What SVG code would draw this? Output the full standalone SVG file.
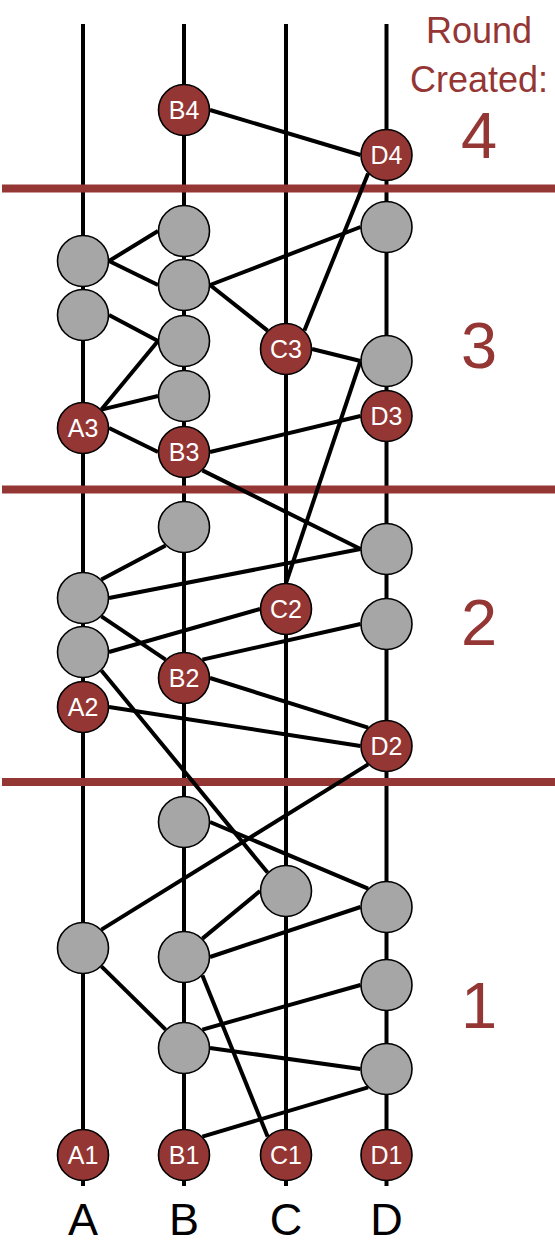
<svg xmlns="http://www.w3.org/2000/svg" width="555" height="1252" viewBox="0 0 555 1252">
<style>
.tl{stroke:#000;stroke-width:4}
.sep{stroke:#943634;stroke-width:8}
.e{stroke:#000;stroke-width:4;fill:none}
.g{fill:#A6A6A6;stroke:#000;stroke-width:1.6}
.r{fill:#943634;stroke:#000;stroke-width:1.6}
.lb{font-family:"Liberation Sans",Arial,sans-serif;font-size:25px;fill:#fff;text-anchor:middle}
.col{font-family:"Liberation Sans",Arial,sans-serif;font-size:45px;fill:#000;text-anchor:middle}
.rd{font-family:"Liberation Sans",Arial,sans-serif;fill:#943634;text-anchor:middle}
</style>
<rect width="555" height="1252" fill="#fff"/>
<g id="timelines">
<line class="tl" x1="83" y1="24" x2="83" y2="1186"/>
<line class="tl" x1="184" y1="24" x2="184" y2="1186"/>
<line class="tl" x1="286" y1="24" x2="286" y2="1186"/>
<line class="tl" x1="386.5" y1="24" x2="386.5" y2="1186"/>
</g>
<g id="separators">
<line class="sep" x1="2" y1="188.5" x2="555" y2="188.5"/>
<line class="sep" x1="2" y1="489.5" x2="555" y2="489.5"/>
<line class="sep" x1="2" y1="782" x2="555" y2="782"/>
</g>
<g id="connectors">
<line class="e" x1="210" y1="110" x2="360.5" y2="155"/>
<line class="e" x1="368.1" y1="173.4" x2="304.4" y2="330.6"/>
<line class="e" x1="109" y1="261" x2="158" y2="231"/>
<line class="e" x1="109" y1="261" x2="158" y2="285"/>
<line class="e" x1="210" y1="285" x2="360.5" y2="227"/>
<line class="e" x1="210" y1="285" x2="267.6" y2="330.6"/>
<line class="e" x1="109" y1="315" x2="158" y2="341"/>
<line class="e" x1="101.4" y1="409.6" x2="158" y2="341"/>
<line class="e" x1="101.4" y1="409.6" x2="158" y2="396"/>
<line class="e" x1="109" y1="428" x2="158" y2="452"/>
<line class="e" x1="312" y1="349" x2="360.5" y2="361"/>
<line class="e" x1="210" y1="452" x2="360.5" y2="416"/>
<line class="e" x1="202.4" y1="470.4" x2="360.5" y2="549"/>
<line class="e" x1="360.5" y1="361" x2="286" y2="583"/>
<line class="e" x1="165.6" y1="545.4" x2="101.4" y2="579.6"/>
<line class="e" x1="109" y1="598" x2="360.5" y2="549"/>
<line class="e" x1="101.4" y1="616.4" x2="165.6" y2="659.6"/>
<line class="e" x1="109" y1="652" x2="260" y2="609"/>
<line class="e" x1="202.4" y1="659.6" x2="360.5" y2="624"/>
<line class="e" x1="210" y1="678" x2="368.1" y2="727.6"/>
<line class="e" x1="109" y1="707" x2="360.5" y2="746"/>
<line class="e" x1="101.4" y1="670.4" x2="267.6" y2="872.6"/>
<line class="e" x1="368.1" y1="764.4" x2="101.4" y2="929.6"/>
<line class="e" x1="210" y1="822" x2="368.1" y2="888.6"/>
<line class="e" x1="260" y1="891" x2="202.4" y2="938.6"/>
<line class="e" x1="210" y1="957" x2="360.5" y2="907"/>
<line class="e" x1="101.4" y1="966.4" x2="165.6" y2="1029.6"/>
<line class="e" x1="202.4" y1="975.4" x2="267.6" y2="1136.6"/>
<line class="e" x1="202.4" y1="1029.6" x2="360.5" y2="985"/>
<line class="e" x1="210" y1="1048" x2="360.5" y2="1069"/>
<line class="e" x1="368.1" y1="1087.4" x2="202.4" y2="1136.6"/>
</g>
<g id="B4"><circle class="r" cx="184" cy="110" r="25.5"/><text class="lb" x="184" y="119">B4</text></g>
<g id="D4"><circle class="r" cx="386.5" cy="155" r="25.5"/><text class="lb" x="386.5" y="164">D4</text></g>
<g id="n-a3-1"><circle class="g" cx="83" cy="261" r="25.5"/></g>
<g id="n-a3-2"><circle class="g" cx="83" cy="315" r="25.5"/></g>
<g id="A3"><circle class="r" cx="83" cy="428" r="25.5"/><text class="lb" x="83" y="437">A3</text></g>
<g id="n-b3-1"><circle class="g" cx="184" cy="231" r="25.5"/></g>
<g id="n-b3-2"><circle class="g" cx="184" cy="285" r="25.5"/></g>
<g id="n-b3-3"><circle class="g" cx="184" cy="341" r="25.5"/></g>
<g id="n-b3-4"><circle class="g" cx="184" cy="396" r="25.5"/></g>
<g id="B3"><circle class="r" cx="184" cy="452" r="25.5"/><text class="lb" x="184" y="461">B3</text></g>
<g id="C3"><circle class="r" cx="286" cy="349" r="25.5"/><text class="lb" x="286" y="358">C3</text></g>
<g id="n-d3-1"><circle class="g" cx="386.5" cy="227" r="25.5"/></g>
<g id="n-d3-2"><circle class="g" cx="386.5" cy="361" r="25.5"/></g>
<g id="D3"><circle class="r" cx="386.5" cy="416" r="25.5"/><text class="lb" x="386.5" y="425">D3</text></g>
<g id="n-b2-1"><circle class="g" cx="184" cy="527" r="25.5"/></g>
<g id="n-d2-1"><circle class="g" cx="386.5" cy="549" r="25.5"/></g>
<g id="n-a2-1"><circle class="g" cx="83" cy="598" r="25.5"/></g>
<g id="C2"><circle class="r" cx="286" cy="609" r="25.5"/><text class="lb" x="286" y="618">C2</text></g>
<g id="n-d2-2"><circle class="g" cx="386.5" cy="624" r="25.5"/></g>
<g id="n-a2-2"><circle class="g" cx="83" cy="652" r="25.5"/></g>
<g id="B2"><circle class="r" cx="184" cy="678" r="25.5"/><text class="lb" x="184" y="687">B2</text></g>
<g id="A2"><circle class="r" cx="83" cy="707" r="25.5"/><text class="lb" x="83" y="716">A2</text></g>
<g id="D2"><circle class="r" cx="386.5" cy="746" r="25.5"/><text class="lb" x="386.5" y="755">D2</text></g>
<g id="n-b1-1"><circle class="g" cx="184" cy="822" r="25.5"/></g>
<g id="n-c1-1"><circle class="g" cx="286" cy="891" r="25.5"/></g>
<g id="n-d1-1"><circle class="g" cx="386.5" cy="907" r="25.5"/></g>
<g id="n-a1-1"><circle class="g" cx="83" cy="948" r="25.5"/></g>
<g id="n-b1-2"><circle class="g" cx="184" cy="957" r="25.5"/></g>
<g id="n-d1-2"><circle class="g" cx="386.5" cy="985" r="25.5"/></g>
<g id="n-b1-3"><circle class="g" cx="184" cy="1048" r="25.5"/></g>
<g id="n-d1-3"><circle class="g" cx="386.5" cy="1069" r="25.5"/></g>
<g id="A1"><circle class="r" cx="83" cy="1155" r="25.5"/><text class="lb" x="83" y="1164">A1</text></g>
<g id="B1"><circle class="r" cx="184" cy="1155" r="25.5"/><text class="lb" x="184" y="1164">B1</text></g>
<g id="C1"><circle class="r" cx="286" cy="1155" r="25.5"/><text class="lb" x="286" y="1164">C1</text></g>
<g id="D1"><circle class="r" cx="386.5" cy="1155" r="25.5"/><text class="lb" x="386.5" y="1164">D1</text></g>
<g id="column-labels">
<text class="col" x="83" y="1235">A</text>
<text class="col" x="184" y="1235">B</text>
<text class="col" x="286" y="1235">C</text>
<text class="col" x="386.5" y="1235">D</text>
</g>
<g id="round-labels">
<text class="rd" x="479" y="43" font-size="36">Round</text>
<text class="rd" x="479" y="92" font-size="36">Created:</text>
<text class="rd" x="479" y="158" font-size="65">4</text>
<text class="rd" x="479" y="368" font-size="65">3</text>
<text class="rd" x="479" y="645" font-size="65">2</text>
<text class="rd" x="479" y="1028" font-size="65">1</text>
</g>
</svg>
